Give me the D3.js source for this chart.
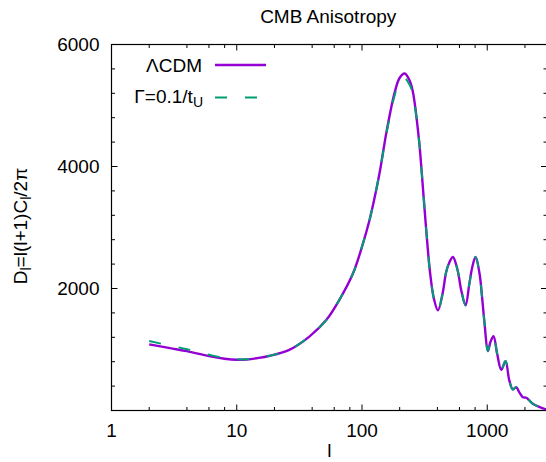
<!DOCTYPE html>
<html><head><meta charset="utf-8">
<script src="https://cdn.jsdelivr.net/npm/d3@7"></script>
<style>
html,body{margin:0;padding:0;background:#fff;}
svg{display:block;font-family:"Liberation Sans",Arial,sans-serif;}
</style></head>
<body>
<svg id="chart" width="546" height="462"></svg>
<script>
// ---- data ----
const ells   = [2,3,4,6,8,10,12,15,18,26,38,52,66,85,102,115,130,140,157,182,200,219,240,255,285,300,326,350,375,404,440,470,500,532,580,620,671,720,760,807,868,910,952,1011,1060,1122,1200,1294,1400,1500,1600,1703,1800,1923,2050,2311,2600,2866,3000];
const dLCDM  = [1084,1018,974,892,849,832,837,862,893,990,1212,1486,1814,2253,2745,3128,3620,3960,4570,5208,5455,5525,5410,5220,4442,3900,2950,2250,1834,1642,1916,2271,2435,2517,2299,1970,1724,2080,2353,2517,2245,1850,1424,974,1122,1220,931,668,810,493,345,383,301,218,209,110,60,28,20];
const dGamma = [1138,1060,1005,915,860,840,840,862,893,990,1212,1486,1814,2253,2745,3128,3620,3960,4550,5160,5390,5443,5340,5180,4442,3900,2950,2250,1834,1642,1916,2271,2435,2517,2299,1970,1724,2080,2353,2517,2245,1850,1424,974,1122,1220,931,668,810,493,345,383,301,218,209,110,60,28,20];
const xMajorTicks = [1,10,100,1000];
const xMinorTicks = [2,4,6,8,20,40,60,80,200,400,600,800,2000];
const yMajorTicks = [0,2000,4000,6000];
const yTickLabels = ["","2000","4000","6000"];
const yMinorTicks = [400,800,1200,1600,2400,2800,3200,3600,4400,4800,5200,5600];
const seriesNames = ["ΛCDM","Γ=0.1/t"];
const title = "CMB Anisotropy";

// ---- layout ----
const L = 111.5, R = 547, T = 44.5, B = 410.5;
const svg = d3.select("#chart");
const x = d3.scaleLog().domain([1,3000]).range([L,R]);
const y = d3.scaleLinear().domain([0,6000]).range([B,T]);
const FS = 19;

const purple = "#9400d3", green = "#009e73";

svg.append("defs").append("clipPath").attr("id","clip")
  .append("rect").attr("x",L).attr("y",T).attr("width",R-L).attr("height",B-T);

// ticks
const tk = svg.append("g").attr("stroke","#000").attr("stroke-width",1);
function xt(v,len){
  tk.append("line").attr("x1",x(v)).attr("x2",x(v)).attr("y1",B).attr("y2",B-len);
  tk.append("line").attr("x1",x(v)).attr("x2",x(v)).attr("y1",T).attr("y2",T+len);
}
function yt(v,len){
  tk.append("line").attr("x1",L).attr("x2",L+len).attr("y1",y(v)).attr("y2",y(v));
  tk.append("line").attr("x1",R).attr("x2",R-len).attr("y1",y(v)).attr("y2",y(v));
}
xMajorTicks.forEach(v=>xt(v,6));
xMinorTicks.forEach(v=>xt(v,3.5));
yMajorTicks.forEach(v=>yt(v,6));
yMinorTicks.forEach(v=>yt(v,3.5));

// border
svg.append("rect").attr("x",L).attr("y",T).attr("width",R-L).attr("height",B-T)
  .attr("fill","none").attr("stroke","#000").attr("stroke-width",1.2);

// tick labels
svg.append("g").selectAll("text").data(xMajorTicks).join("text")
  .attr("x",d=>x(d)).attr("y",436.5).attr("text-anchor","middle")
  .attr("font-size",FS).text(d=>d3.format("d")(d));
svg.append("g").selectAll("text").data(yMajorTicks).join("text")
  .attr("x",99.5).attr("y",d=>y(d)+6.6).attr("text-anchor","end")
  .attr("font-size",FS).text((d,i)=>yTickLabels[i]);

// title and axis labels
svg.append("text").attr("x",(L+R)/2 - 1).attr("y",23).attr("text-anchor","middle")
  .attr("font-size",FS).text(title);
svg.append("text").attr("x",(L+R)/2).attr("y",457).attr("text-anchor","middle")
  .attr("font-size",FS).text("l");
const yl = svg.append("text").attr("transform","translate(26.8,226) rotate(-90)")
  .attr("text-anchor","middle").attr("font-size",FS);
yl.append("tspan").text("D");
yl.append("tspan").attr("font-size",14).attr("dy",4).text("l");
yl.append("tspan").attr("dy",-4).text("=l(l+1)C");
yl.append("tspan").attr("font-size",14).attr("dy",4).text("l");
yl.append("tspan").attr("dy",-4).text("/2π");

// curves
const line = d3.line().x(d=>x(d[0])).y(d=>y(d[1])).curve(d3.curveCatmullRom.alpha(0.5));
const g = svg.append("g").attr("clip-path","url(#clip)");
g.append("path").datum(ells.map((l,i)=>[l,dLCDM[i]]))
  .attr("d",line).attr("fill","none").attr("stroke",purple).attr("stroke-width",2.4);
g.append("path").datum(ells.map((l,i)=>[l,dGamma[i]]))
  .attr("d",line).attr("fill","none").attr("stroke",green).attr("stroke-width",2)
  .attr("stroke-dasharray","12,18");

// legend
svg.append("text").attr("x",202).attr("y",72).attr("text-anchor","end")
  .attr("font-size",FS).text(seriesNames[0]);
svg.append("line").attr("x1",215).attr("x2",266).attr("y1",65).attr("y2",65)
  .attr("stroke",purple).attr("stroke-width",2.4);
const lg = svg.append("text").attr("x",203).attr("y",103).attr("text-anchor","end")
  .attr("font-size",FS);
lg.append("tspan").text(seriesNames[1]);
lg.append("tspan").attr("font-size",14).attr("dy",3.5).text("U");
svg.append("line").attr("x1",215).attr("x2",266).attr("y1",97.5).attr("y2",97.5)
  .attr("stroke",green).attr("stroke-width",2).attr("stroke-dasharray","12,18");
</script>
</body></html>
